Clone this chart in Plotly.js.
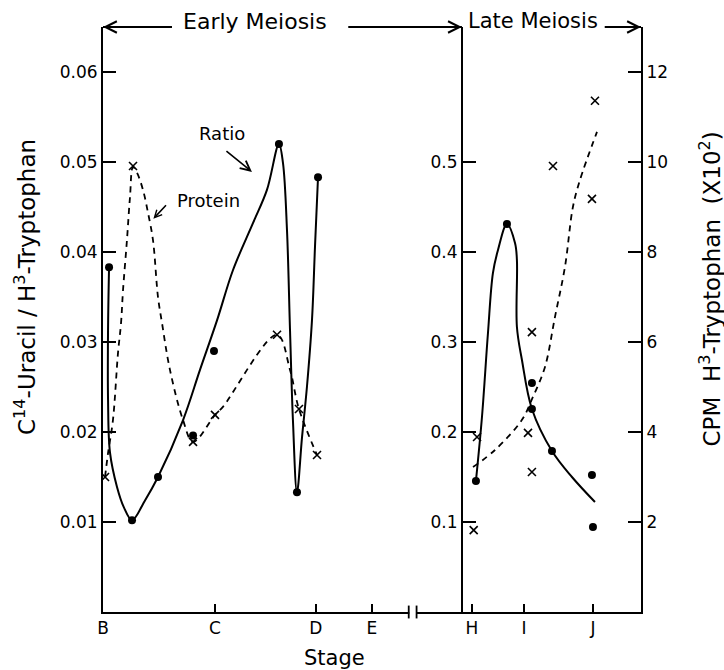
<!DOCTYPE html>
<html>
<head>
<meta charset="utf-8">
<script src="https://cdn.plot.ly/plotly-3.0.1.min.js"></script>
<style>html,body{margin:0;padding:0;background:#fff;}#chart{width:724px;height:670px;}</style>
</head>
<body>
<div id="chart"></div>
<script>
// Stage positions on a continuous stage axis (B=0, C=1)
const stageLabels = ['B', 'C', 'D', 'E', 'H', 'I', 'J'];
const stagePos = [0, 1.0, 1.90, 2.40, 3.295, 3.76, 4.375];

// Early meiosis: ratio (C14-uracil / H3-tryptophan), left axis
const earlyRatioX = [0.054, 0.259, 0.491, 0.804, 0.991, 1.571, 1.732, 1.92];
const earlyRatioY = [0.0383, 0.0102, 0.0150, 0.0196, 0.0290, 0.0520, 0.0133, 0.0483];
const earlyRatioCurveX = [0.054, 0.045, 0.045, 0.0625, 0.125, 0.1875, 0.259, 0.375, 0.491, 0.714, 0.866, 1.018, 1.161, 1.339, 1.464, 1.571, 1.607, 1.643, 1.670, 1.696, 1.732, 1.777, 1.821, 1.866, 1.893, 1.92];
const earlyRatioCurveY = [0.0383, 0.0313, 0.0236, 0.0177, 0.0139, 0.0116, 0.0102, 0.0124, 0.0150, 0.0213, 0.0269, 0.0324, 0.0380, 0.0432, 0.0469, 0.0520, 0.0499, 0.0424, 0.0313, 0.0213, 0.0133, 0.0194, 0.0250, 0.0324, 0.0406, 0.0483];

// Early meiosis: protein (CPM H3-tryptophan x10^2), right axis
const earlyProteinX = [0.018, 0.268, 0.804, 1.0, 1.554, 1.75, 1.911];
const earlyProteinY = [3.0, 9.91, 3.78, 4.38, 6.16, 4.51, 3.49];
const earlyProteinCurveX = [0.018, 0.045, 0.089, 0.134, 0.161, 0.179, 0.214, 0.241, 0.268, 0.304, 0.357, 0.402, 0.446, 0.491, 0.527, 0.598, 0.714, 0.804, 1.0, 1.071, 1.554, 1.670, 1.75, 1.911];
const earlyProteinCurveY = [3.0, 3.53, 4.27, 5.76, 6.42, 7.16, 8.27, 9.22, 9.89, 9.76, 9.38, 8.87, 8.27, 7.0, 6.42, 5.38, 4.27, 3.78, 4.38, 4.56, 6.16, 5.38, 4.51, 3.49];

// Late meiosis: ratio, inner axis
const lateRatioX = [3.33, 3.607, 3.83, 3.83, 4.009, 4.366, 4.375];
const lateRatioY = [0.1456, 0.4311, 0.2544, 0.2256, 0.1789, 0.1522, 0.0944];
const lateRatioCurveX = [3.33, 3.384, 3.4375, 3.482, 3.527, 3.607, 3.679, 3.696, 3.696, 3.741, 3.83, 4.009, 4.1875, 4.393];
const lateRatioCurveY = [0.1456, 0.2167, 0.31, 0.3767, 0.4022, 0.4311, 0.41, 0.391, 0.3167, 0.28, 0.2256, 0.1789, 0.15, 0.1222];

// Late meiosis: protein, right axis
const lateProteinX = [3.34, 3.31, 3.83, 3.795, 3.83, 4.018, 4.366, 4.393];
const lateProteinY = [3.89, 1.82, 6.22, 3.98, 3.11, 9.91, 9.18, 11.36];
const lateProteinCurveX = [3.304, 3.5, 3.741, 3.839, 3.946, 4.036, 4.125, 4.196, 4.259, 4.411];
const lateProteinCurveY = [3.22, 3.6, 4.27, 4.78, 5.44, 6.56, 7.67, 9.0, 9.6, 10.67];

const leftTicks = [0.01, 0.02, 0.03, 0.04, 0.05, 0.06];
const rightTicks = [2, 4, 6, 8, 10, 12];
const innerTicks = [0.1, 0.2, 0.3, 0.4, 0.5];

const FONT = 'DejaVu Sans, sans-serif';
const solid = {color: '#000', width: 2, shape: 'spline', smoothing: 1};
const dashed = {color: '#000', width: 1.8, dash: '6px,5px', shape: 'spline', smoothing: 1};
const dot = {color: '#000', size: 8, symbol: 'circle'};
const cross = {color: '#000', size: 8, symbol: 'x-thin', line: {color: '#000', width: 1.6}};

const traces = [
  {x: earlyRatioCurveX, y: earlyRatioCurveY, mode: 'lines', line: solid, yaxis: 'y'},
  {x: earlyRatioX, y: earlyRatioY, mode: 'markers', marker: dot, yaxis: 'y'},
  {x: earlyProteinCurveX, y: earlyProteinCurveY, mode: 'lines', line: dashed, yaxis: 'y2'},
  {x: earlyProteinX, y: earlyProteinY, mode: 'markers', marker: cross, yaxis: 'y2'},
  {x: lateRatioCurveX, y: lateRatioCurveY, mode: 'lines', line: solid, yaxis: 'y3'},
  {x: lateRatioX, y: lateRatioY, mode: 'markers', marker: dot, yaxis: 'y3'},
  {x: lateProteinCurveX, y: lateProteinCurveY, mode: 'lines', line: dashed, yaxis: 'y2'},
  {x: lateProteinX, y: lateProteinY, mode: 'markers', marker: cross, yaxis: 'y2'}
];

const axisCommon = {showgrid: false, zeroline: false, showline: true, linecolor: '#000', linewidth: 2,
  ticks: 'inside', ticklen: 13, tickwidth: 1.5, tickcolor: '#000', tickfont: {family: FONT, size: 17, color: '#000'}};

function label(x, y, text, size, extra) {
  return Object.assign({xref: 'x', yref: 'y', x: x, y: y, text: text, showarrow: false,
    xanchor: 'center', yanchor: 'middle', font: {size: size}}, extra || {});
}
function arrow(xref, yref, x, y, ax, ay, head, size) {
  return {xref: xref, yref: yref, x: x, y: y, ax: ax, ay: ay, showarrow: true, arrowhead: head,
    arrowsize: size, arrowwidth: 1.6, arrowcolor: '#000', text: ''};
}

const layout = {
  width: 724, height: 670,
  margin: {l: 103, r: 83, t: 27, b: 58},
  paper_bgcolor: '#fff', plot_bgcolor: '#fff',
  showlegend: false,
  font: {family: FONT, color: '#000'},
  xaxis: Object.assign({}, axisCommon, {range: [0, 4.804], tickvals: stagePos, ticktext: stageLabels, ticklen: 8, linewidth: 1.5}),
  yaxis: Object.assign({}, axisCommon, {range: [0, 0.065], tickvals: leftTicks, ticktext: leftTicks.map(v => v.toFixed(2))}),
  yaxis2: Object.assign({}, axisCommon, {overlaying: 'y', side: 'right', range: [0, 13], tickvals: rightTicks}),
  yaxis3: Object.assign({}, axisCommon, {overlaying: 'y', anchor: 'free', position: 0.6673, side: 'left', range: [0, 0.65], tickvals: innerTicks, ticktext: innerTicks.map(v => v.toFixed(1))}),
  shapes: [
    {type: 'line', xref: 'x', yref: 'paper', x0: 0, x1: 0.616, y0: 1, y1: 1, line: {color: '#000', width: 1.8}},
    {type: 'line', xref: 'x', yref: 'paper', x0: 2.19, x1: 3.205, y0: 1, y1: 1, line: {color: '#000', width: 1.8}},
    {type: 'line', xref: 'x', yref: 'paper', x0: 4.48, x1: 4.804, y0: 1, y1: 1, line: {color: '#000', width: 1.8}},
    {type: 'line', xref: 'x', yref: 'paper', x0: 2.735, x1: 2.795, y0: 0, y1: 0, line: {color: '#fff', width: 4}},
    {type: 'line', xref: 'x', yref: 'paper', x0: 2.73, x1: 2.73, y0: -0.011, y1: 0.011, line: {color: '#000', width: 1.8}},
    {type: 'line', xref: 'x', yref: 'paper', x0: 2.80, x1: 2.80, y0: -0.011, y1: 0.011, line: {color: '#000', width: 1.8}}
  ],
  annotations: [
    arrow('x', 'paper', 0, 1, 69, 0, 5, 1.4),
    arrow('x', 'paper', 3.205, 1, -114, 0, 5, 1.4),
    arrow('x', 'paper', 4.804, 1, -36, 0, 5, 1.4),
    label(1.36, 1.01, 'Early Meiosis', 22, {yref: 'paper'}),
    label(3.84, 1.01, 'Late Meiosis', 21, {yref: 'paper'}),
    label(-0.145, 0.5556, 'C<sup>14</sup>-Uracil / H<sup>3</sup>-Tryptophan', 23, {xref: 'paper', yref: 'paper', textangle: -90}),
    label(1.13, 0.553, 'CPM  H<sup>3</sup>-Tryptophan  (X10<sup>2</sup>)', 23, {xref: 'paper', yref: 'paper', textangle: -90}),
    label(0.431, -0.078, 'Stage', 21, {xref: 'paper', yref: 'paper'}),
    label(1.063, 0.0532, 'Ratio', 18),
    arrow('x', 'y', 1.33, 0.0489, -27, -22, 5, 1.2),
    label(0.945, 0.0457, 'Protein', 18),
    arrow('x', 'y', 0.45, 0.0437, 14, -15, 5, 0.9)
  ]
};

Plotly.newPlot('chart', traces, layout, {displayModeBar: false, staticPlot: true});
</script>
</body>
</html>
